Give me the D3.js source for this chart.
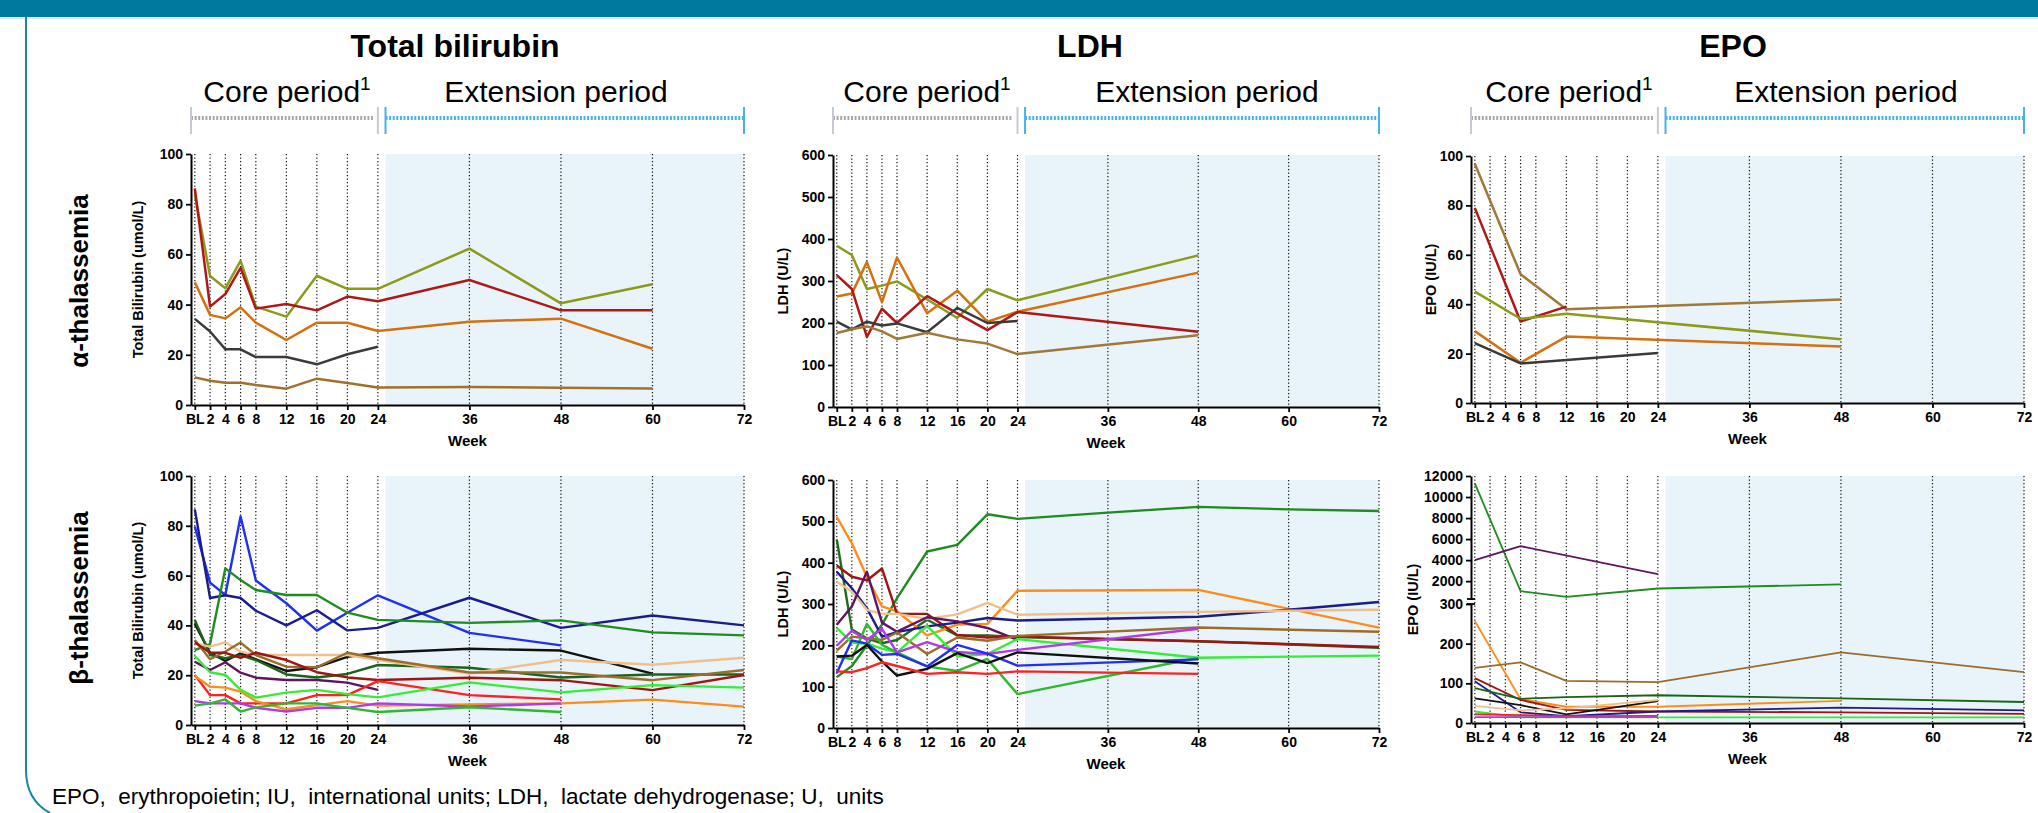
<!DOCTYPE html>
<html>
<head>
<meta charset="utf-8">
<script src="https://cdn.jsdelivr.net/npm/d3@7"></script>
<style>
body { margin: 0; background: #fff; }
svg { display: block; font-family: "Liberation Sans", Arial, sans-serif; }
</style>
</head>
<body>
<svg width="2038" height="813"></svg>
<script>
// time points (weeks) shared by every panel
var weeks = [0, 2, 4, 6, 8, 12, 16, 20, 24, 36, 48, 60, 72];
var weekLabels = ['BL', '2', '4', '6', '8', '12', '16', '20', '24', '36', '48', '60', '72'];

// alpha-thalassemia, total bilirubin (umol/L), one row per patient
var biliAlpha = [
    [84, 51.4, 46.5, 57.4, 39.2, 35.2, 51.5, 46.3, 46.3, 62.3, 40.5, 48.1, null],
    [86.3, 39.2, 44.2, 54.6, 38.4, 40.2, 37.7, 43.2, 41.3, 49.8, 37.7, 37.7, null],
    [48.9, 35.9, 34.5, 38.9, 32.8, 25.9, 32.8, 32.8, 29.5, 33.2, 34.4, 22.4, null],
    [34.3, 29.3, 22.2, 22.2, 19.1, 19.1, 16.2, 20.2, 23.2, null, null, null, null],
    [11.0, 9.7, 8.9, 8.9, 8.0, 6.5, 10.5, 8.8, 7.0, 7.2, 6.9, 6.6, null]
];
// alpha-thalassemia, LDH (U/L)
var ldhAlpha = [
    [384, 362, 281, 289, 299, 256, 212, 281, 254, null, 361, null, null],
    [263, 270, 345, 250, 356, 223, 277, 203, 227, null, 320, null, null],
    [314, 281, 167, 234, 200, 264, 223, 183, 226, null, 179, null, null],
    [203, 185, 203, 194, 199, 178, 236, 200, 205, null, null, null, null],
    [176, 185, 192, 180, 162, 177, 161, 151, 126, null, 171, null, null]
];
// alpha-thalassemia, EPO (IU/L)
var epoAlpha = [
    [96.9, null, null, 52.1, null, 38.0, null, null, null, null, 41.9, null, null],
    [79.0, null, null, 33.0, null, 39.0, null, null, null, null, null, null, null],
    [45.1, null, null, 34.1, null, 36.1, null, null, null, null, 25.8, null, null],
    [29.1, null, null, 16.3, null, 26.9, null, null, null, null, 22.9, null, null],
    [24.2, null, null, 16.0, null, null, null, null, 20.2, null, null, null, null]
];
// beta-thalassemia, total bilirubin (umol/L)
var biliBeta = [
    [79.7, 57.2, 52.2, 83.7, 58.0, 48.9, 37.9, 45.1, 52.1, 37.0, 32.0, null, null],
    [86.6, 51.0, 52.1, 51.0, 45.9, 40.0, 46.1, 38.0, 39.0, 51.1, 39.0, 44.0, 40.0],
    [30.1, 32.5, 62.9, 58.2, 54.2, 52.2, 52.2, 45.1, 42.2, 41.0, 42.0, 37.2, 36.0],
    [40.6, 29.0, 25.7, 28.8, 26.4, 21.7, 23.2, 27.4, 29.0, 30.6, 29.9, 20.6, null],
    [42.2, 28.1, 26.8, 28.0, 26.1, 20.3, 19.1, 20.5, 24.1, 23.0, 19.1, 20.3, 20.3],
    [32.8, 31.5, 33.2, 29.5, 28.1, 28.1, 28.1, 28.1, 26.1, 20.7, 26.1, 24.2, 27.0],
    [34.1, 26.4, 29.5, 33.1, 28.1, 23.4, 23.2, 29.0, 26.8, 21.1, 21.1, 18.0, 22.1],
    [33.1, 29.0, 29.0, 27.0, 29.0, 26.1, 21.2, 19.1, 18.1, 19.0, 18.0, 14.0, 20.1],
    [25.4, 22.1, 25.2, 21.0, 19.0, 18.1, 18.1, 17.0, 14.1, null, null, null, null],
    [20.1, 12.0, 12.0, 8.7, 8.7, 8.7, 12.0, 12.0, 17.6, 12.0, 10.3, null, null],
    [19.7, 15.4, 15.0, 13.4, 9.6, 6.3, 8.0, 9.6, 7.8, 8.3, 8.7, 10.2, 7.4],
    [27.7, 21.2, 20.1, 14.1, 11.0, 13.0, 14.1, 12.4, 11.1, 17.1, 13.1, 16.0, 15.0],
    [9.6, 8.7, 8.7, 8.7, 6.9, 5.4, 6.9, 6.9, 8.7, 7.4, 8.7, null, null],
    [7.8, 8.7, 10.3, 5.4, 7.1, 8.7, 8.7, 6.9, 5.2, 7.1, 5.2, null, null]
];
// beta-thalassemia, LDH (U/L)
var ldhBeta = [
    [123, 150, 200, 250, 314, 427, 443, 517, 506, 521, 535, 529, 525],
    [456, 238, 217, 205, 213, 262, 224, 224, 220, null, 210, null, 194],
    [511, 447, 366, 294, 282, 224, 250, 252, 332, null, 334, null, 243],
    [393, 366, 357, 386, 276, 276, 225, 219, 221, null, 210, null, 196],
    [378, 338, 290, 221, 232, 246, 255, 266, 260, null, 269, 286, 305],
    [354, 330, 286, 276, 276, 264, 275, 303, 274, null, 281, null, 286],
    [250, 294, 378, 255, 233, 268, 258, 242, 213, null, null, null, null],
    [187, 221, 217, 213, 231, 179, 219, 211, 223, null, 243, null, 233],
    [242, 207, 204, 192, 183, 247, 173, 179, 215, null, 170, null, 175],
    [173, 167, 252, 201, 183, 149, 138, 167, 82, null, 170, null, null],
    [199, 235, 213, 240, 183, 208, 184, 179, 189, null, 240, null, null],
    [133, 212, 204, 177, 179, 149, 201, 180, 151, null, 166, null, null],
    [173, 175, 201, 161, 127, 143, 181, 157, 183, null, 156, null, null],
    [137, 135, 145, 159, 150, 131, 135, 131, 137, null, 131, null, null]
];
// beta-thalassemia, EPO (IU/L)
var epoBeta = [
    [11300, null, null, 1050, null, 505, null, null, 1300, null, 1690, null, null],
    [4000, null, null, 5330, null, null, null, null, 2670, null, null, null, null],
    [257, null, null, 60, null, 41, null, null, 41, null, 56, null, null],
    [139, null, null, 153, null, 106, null, null, 103, null, 178, null, 128],
    [113, null, null, 58, null, 33, null, null, 29, null, 27, null, 23],
    [105, null, null, 27, null, 17, null, null, 29, null, 39, null, 32],
    [88, null, null, 61, null, 65, null, null, 70, null, 62, null, 53],
    [62, null, null, 45, null, 22, null, null, 55, null, null, null, null],
    [43, null, null, 32, null, 37, null, null, 58, null, null, null, null],
    [29, null, null, 14, null, 14, null, null, 14, null, 14, null, 14],
    [22, null, null, 20, null, 17, null, null, 18, null, null, null, null],
    [15, null, null, 15, null, 15, null, null, 15, null, null, null, null]
];

var biliAlphaColors = ['#8c9a1c', '#b01818', '#d4700f', '#3a3a3a', '#a0702c'];
var ldhAlphaColors = ['#8c9a1c', '#d4700f', '#b01818', '#3a3a3a', '#a07838'];
var epoAlphaColors = ['#a07838', '#b01818', '#8c9a1c', '#d4700f', '#3a3a3a'];
var biliBetaColors = ['#1f2ff5', '#1c1c8a', '#1e8c1e', '#111111', '#1a641a', '#f0c08c', '#9c6c2c',
    '#a01414', '#5e1460', '#ff2020', '#ff8c1a', '#33ee33', '#b03ae6', '#2eb82e'];
var ldhBetaColors = ['#1e8c1e', '#1a6e1a', '#ff8c1a', '#a01414', '#1c1c8a', '#f0c08c', '#5e1460',
    '#9c6c2c', '#33ee33', '#2eb82e', '#b03ae6', '#1f2ff5', '#111111', '#ff2020'];
var epoBetaColors = ['#1e8c1e', '#5e1460', '#ff8c1a', '#9c6c2c', '#a01414', '#1c1c8a', '#1a641a',
    '#111111', '#f0c08c', '#33ee33', '#ff2020', '#b03ae6'];

var svg = d3.select('svg');

// header band and frame
svg.append('rect').attr('x', 0).attr('y', 0).attr('width', 2038).attr('height', 17).attr('fill', '#00799e');
svg.append('line').attr('x1', 0).attr('x2', 2038).attr('y1', 18).attr('y2', 18)
    .attr('stroke', '#b8dbe6').attr('stroke-width', 1);
svg.append('path').attr('d', 'M26,17 V770 Q26,800 50,813')
    .attr('fill', 'none').attr('stroke', '#1a84a6').attr('stroke-width', 2);

function styleAxis(g) {
    g.select('.domain').attr('stroke', '#000').attr('stroke-width', 2);
    g.selectAll('.tick line').attr('stroke', '#000').attr('stroke-width', 1.8);
    g.selectAll('.tick text').attr('font-size', 14).attr('font-weight', 'bold')
        .attr('font-family', '"Liberation Sans", Arial, sans-serif').attr('fill', '#000');
}

function drawPanel(p) {
    var g = svg.append('g');
    var x = d3.scaleLinear().domain([-0.5, 72]).range([p.axisX, p.x72]);
    var y = p.y;

    g.append('rect')
        .attr('x', x(25)).attr('y', p.top)
        .attr('width', x(72) - x(25)).attr('height', p.bottom - p.top)
        .attr('fill', '#e8f4f9');

    g.selectAll('line.grid')
        .data(weeks)
        .enter()
        .append('line')
        .attr('class', 'grid')
        .attr('x1', function(d){ return x(d); })
        .attr('x2', function(d){ return x(d); })
        .attr('y1', p.top)
        .attr('y2', p.bottom)
        .attr('stroke', '#111')
        .attr('stroke-width', 1.2)
        .attr('stroke-dasharray', '1.2,2.3');

    var line = d3.line()
        .x(function(d){ return x(d[0]); })
        .y(function(d){ return y(d[1]); });

    g.selectAll('path.series')
        .data(p.series)
        .enter()
        .append('path')
        .attr('class', 'series')
        .attr('d', function(s){
            return line(weeks.map(function(w, i){ return [w, s[i]]; })
                .filter(function(d){ return d[1] != null; }));
        })
        .attr('fill', 'none')
        .attr('stroke', function(s, i){ return p.colors[i]; })
        .attr('stroke-width', p.lw)
        .attr('stroke-linejoin', 'round');

    var xAxis = g.append('g')
        .attr('transform', 'translate(0,' + p.bottom + ')')
        .call(d3.axisBottom(x).tickValues(weeks)
            .tickFormat(function(d, i){ return weekLabels[i]; })
            .tickSize(5).tickSizeOuter(0).tickPadding(4));
    styleAxis(xAxis);

    p.yAxes.forEach(function(a){
        var ya = g.append('g')
            .attr('transform', 'translate(' + p.axisX + ',0)')
            .call(d3.axisLeft(a.scale).tickValues(a.ticks).tickFormat(d3.format('d'))
                .tickSize(5).tickSizeOuter(0).tickPadding(3));
        styleAxis(ya);
    });

    g.append('text')
        .attr('x', (p.axisX + p.x72) / 2)
        .attr('y', p.bottom + 41)
        .attr('text-anchor', 'middle')
        .attr('font-size', 15)
        .attr('font-weight', 'bold')
        .text('Week');

    g.append('text')
        .attr('transform', 'translate(' + p.labelX + ',' + ((p.top + p.bottom) / 2) + ') rotate(-90)')
        .attr('text-anchor', 'middle')
        .attr('font-size', 14.5)
        .attr('font-weight', 'bold')
        .text(p.yLabel);
}

// top row
var yTL = d3.scaleLinear().domain([0, 100]).range([405, 154]);
drawPanel({ axisX: 191, x72: 744, top: 154, bottom: 405, y: yTL, series: biliAlpha, colors: biliAlphaColors,
    lw: 2.5, yAxes: [{ scale: yTL, ticks: [0, 20, 40, 60, 80, 100] }], labelX: 143, yLabel: 'Total Bilirubin (umol/L)' });
var yTM = d3.scaleLinear().domain([0, 600]).range([407, 155]);
drawPanel({ axisX: 833, x72: 1379, top: 155, bottom: 407, y: yTM, series: ldhAlpha, colors: ldhAlphaColors,
    lw: 2.5, yAxes: [{ scale: yTM, ticks: [0, 100, 200, 300, 400, 500, 600] }], labelX: 788, yLabel: 'LDH (U/L)' });
var yTR = d3.scaleLinear().domain([0, 100]).range([403, 156]);
drawPanel({ axisX: 1471, x72: 2024, top: 156, bottom: 403, y: yTR, series: epoAlpha, colors: epoAlphaColors,
    lw: 2.5, yAxes: [{ scale: yTR, ticks: [0, 20, 40, 60, 80, 100] }], labelX: 1436, yLabel: 'EPO (IU/L)' });

// bottom row
var yBL = d3.scaleLinear().domain([0, 100]).range([725, 476]);
drawPanel({ axisX: 191, x72: 744, top: 476, bottom: 725, y: yBL, series: biliBeta, colors: biliBetaColors,
    lw: 2.4, yAxes: [{ scale: yBL, ticks: [0, 20, 40, 60, 80, 100] }], labelX: 143, yLabel: 'Total Bilirubin (umol/L)' });
var yBM = d3.scaleLinear().domain([0, 600]).range([728, 480]);
drawPanel({ axisX: 833, x72: 1379, top: 480, bottom: 728, y: yBM, series: ldhBeta, colors: ldhBetaColors,
    lw: 2.4, yAxes: [{ scale: yBM, ticks: [0, 100, 200, 300, 400, 500, 600] }], labelX: 788, yLabel: 'LDH (U/L)' });

// EPO beta uses a broken axis: 0-300 below, 300-12000 above
var yLow = d3.scaleLinear().domain([0, 300]).range([723, 604]);
var yHigh = d3.scaleLinear().domain([300, 12000]).range([599, 476]);
var yBR = function(v){ return v <= 300 ? yLow(v) : yHigh(v); };
drawPanel({ axisX: 1471, x72: 2024, top: 476, bottom: 723, y: yBR, series: epoBeta, colors: epoBetaColors,
    lw: 1.8, yAxes: [{ scale: yLow, ticks: [0, 100, 200, 300] }, { scale: yHigh, ticks: [2000, 4000, 6000, 8000, 10000, 12000] }],
    labelX: 1418, yLabel: 'EPO (IU/L)' });
[599, 604].forEach(function(v){
    svg.append('line').attr('x1', 1467).attr('x2', 1475).attr('y1', v).attr('y2', v)
        .attr('stroke', '#000').attr('stroke-width', 1.8);
});

// column titles and study periods
var titles = [
    { text: 'Total bilirubin', x: 455, axisX: 191, x72: 744, coreX: 287, extX: 556 },
    { text: 'LDH', x: 1090, axisX: 833, x72: 1379, coreX: 927, extX: 1207 },
    { text: 'EPO', x: 1733, axisX: 1471, x72: 2024, coreX: 1569, extX: 1846 }
];
titles.forEach(function(t){
    var x = d3.scaleLinear().domain([-0.5, 72]).range([t.axisX, t.x72]);
    svg.append('text').attr('x', t.x).attr('y', 57).attr('text-anchor', 'middle')
        .attr('font-size', 32).attr('font-weight', 'bold').text(t.text);

    var core = svg.append('text').attr('x', t.coreX).attr('y', 102)
        .attr('text-anchor', 'middle').attr('font-size', 30);
    core.append('tspan').text('Core period');
    core.append('tspan').attr('font-size', 19).attr('dy', -12).text('1');
    svg.append('text').attr('x', t.extX).attr('y', 102)
        .attr('text-anchor', 'middle').attr('font-size', 30).text('Extension period');

    svg.append('line').attr('x1', t.axisX).attr('x2', x(24) - 5).attr('y1', 118).attr('y2', 118)
        .attr('stroke', '#a8a8a8').attr('stroke-width', 4).attr('stroke-dasharray', '2,1.6');
    svg.append('line').attr('x1', x(25)).attr('x2', x(72)).attr('y1', 118).attr('y2', 118)
        .attr('stroke', '#45b4e4').attr('stroke-width', 4).attr('stroke-dasharray', '2,1.6');
    [[t.axisX, '#c8c8d6'], [x(24), '#c8c8d6'], [x(25), '#45b4e4'], [x(72), '#45b4e4']].forEach(function(m){
        svg.append('line').attr('x1', m[0]).attr('x2', m[0]).attr('y1', 107).attr('y2', 134)
            .attr('stroke', m[1]).attr('stroke-width', 2);
    });
});

// row labels
[['α-thalassemia', 281], ['β-thalassemia', 598]].forEach(function(r){
    svg.append('text').attr('transform', 'translate(88,' + r[1] + ') rotate(-90)')
        .attr('text-anchor', 'middle').attr('font-size', 26).attr('font-weight', 'bold').text(r[0]);
});

svg.append('text').attr('x', 52).attr('y', 804).attr('font-size', 22.5)
    .style('white-space', 'pre')
    .text('EPO,  erythropoietin; IU,  international units; LDH,  lactate dehydrogenase; U,  units');
</script>
</body>
</html>
